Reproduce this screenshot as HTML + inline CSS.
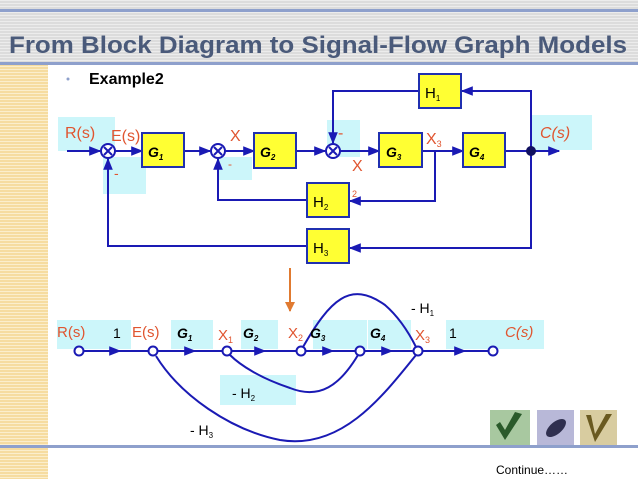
<!DOCTYPE html>
<html><head><style>
body{margin:0;width:638px;height:479px;overflow:hidden;background:#fff;position:relative;font-family:"Liberation Sans",sans-serif}
</style></head><body>
<svg width="638" height="479" viewBox="0 0 638 479" style="position:absolute;left:0;top:0">
<defs>
<marker id="a" viewBox="0 0 10 10" refX="9" refY="5" markerWidth="6" markerHeight="6" orient="auto"><path d="M0,1 L10,5 L0,9z" fill="#1a1ab4"/></marker>
<marker id="o" viewBox="0 0 10 10" refX="9" refY="5" markerWidth="5" markerHeight="5" orient="auto"><path d="M0,0 L10,5 L0,10z" fill="#e07a30"/></marker>
<pattern id="g" width="4" height="3" patternUnits="userSpaceOnUse"><rect width="4" height="3" fill="#dcdcdc"/><rect width="4" height="1" fill="#ececec"/></pattern>
<pattern id="y" width="4" height="3" patternUnits="userSpaceOnUse"><rect width="4" height="3" fill="#f6dca0"/><rect width="4" height="1" fill="#fbeecc"/></pattern>
</defs>
<rect x="0" y="0" width="638" height="64" fill="url(#g)"/>
<rect x="0" y="9" width="638" height="3" fill="#8ea0cc"/>
<rect x="0" y="62" width="638" height="3" fill="#8ea0cc"/>
<rect x="0" y="65" width="48" height="414" fill="url(#y)"/>
<rect x="0" y="445" width="638" height="3" fill="#8ea0cc"/>
<text x="9" y="53" font-size="24" font-weight="bold" fill="#4a5a7a" textLength="618" lengthAdjust="spacingAndGlyphs" font-family="Liberation Sans">From Block Diagram to Signal-Flow Graph Models</text>
<circle cx="68" cy="79" r="1.5" fill="#8ea0cc"/>
<text x="89" y="84" font-size="16" font-weight="bold" fill="#000">Example2</text>
<g fill="#ccf6fa">
<rect x="58" y="117" width="57" height="34"/><rect x="103" y="157" width="43" height="37"/><rect x="218" y="157" width="34" height="23"/><rect x="327" y="120" width="33" height="37"/><rect x="532" y="115" width="60" height="35"/>
<rect x="57" y="320" width="74" height="29"/><rect x="171" y="320" width="42" height="29"/><rect x="241" y="320" width="37" height="29"/><rect x="313" y="320" width="54" height="29"/><rect x="368" y="320" width="43" height="29"/><rect x="446" y="320" width="98" height="29"/><rect x="220" y="375" width="76" height="30"/>
</g>
<g stroke="#1a1ab4" stroke-width="2" fill="none">
<line x1="67" y1="151" x2="100" y2="151" marker-end="url(#a)"/>
<line x1="115" y1="151" x2="142" y2="151" marker-end="url(#a)"/>
<line x1="184" y1="151" x2="210" y2="151" marker-end="url(#a)"/>
<line x1="225" y1="151" x2="254" y2="151" marker-end="url(#a)"/>
<line x1="296" y1="151" x2="325" y2="151" marker-end="url(#a)"/>
<line x1="340" y1="151" x2="379" y2="151" marker-end="url(#a)"/>
<line x1="422" y1="151" x2="463" y2="151" marker-end="url(#a)"/>
<line x1="505" y1="151" x2="559" y2="151" marker-end="url(#a)"/>
<polyline points="531,151 531,91 462,91" marker-end="url(#a)"/>
<polyline points="419,91 333,91 333,143" marker-end="url(#a)"/>
<polyline points="435,151 435,201 350,201" marker-end="url(#a)"/>
<polyline points="307,200 218,200 218,159" marker-end="url(#a)"/>
<polyline points="531,151 531,248 350,248" marker-end="url(#a)"/>
<polyline points="307,246 108,246 108,159" marker-end="url(#a)"/>
<circle cx="108" cy="151" r="7" fill="#fff"/><circle cx="218" cy="151" r="7" fill="#fff"/><circle cx="333" cy="151" r="7" fill="#fff"/>
<path d="M104,147 L112,155 M112,147 L104,155 M214,147 L222,155 M222,147 L214,155 M329,147 L337,155 M337,147 L329,155"/>
</g>
<circle cx="531" cy="151" r="5" fill="#101060"/>
<g fill="#ffff33" stroke="#2030b0" stroke-width="2">
<rect x="142" y="133" width="42" height="34"/><rect x="254" y="133" width="42" height="35"/><rect x="379" y="133" width="43" height="34"/><rect x="463" y="133" width="42" height="34"/>
<rect x="419" y="74" width="42" height="34"/><rect x="307" y="183" width="42" height="34"/><rect x="307" y="229" width="42" height="34"/>
</g>
<g font-size="14" font-weight="bold" font-style="italic" fill="#000">
<text x="148" y="157">G<tspan font-size="8" dy="3">1</tspan></text>
<text x="260" y="157">G<tspan font-size="8" dy="3">2</tspan></text>
<text x="386" y="157">G<tspan font-size="8" dy="3">3</tspan></text>
<text x="469" y="157">G<tspan font-size="8" dy="3">4</tspan></text>
</g>
<g font-size="15" fill="#000">
<text x="425" y="98">H<tspan font-size="8" dy="3">1</tspan></text>
<text x="313" y="207">H<tspan font-size="8" dy="3">2</tspan></text>
<text x="313" y="253">H<tspan font-size="8" dy="3">3</tspan></text>
</g>
<g fill="#e05530" font-size="16">
<text x="65" y="138">R(s)</text><text x="111" y="141">E(s)</text><text x="230" y="141">X</text><text x="352" y="171">X</text><text x="426" y="144">X<tspan font-size="9" dy="3">3</tspan></text>
<text x="540" y="138" font-style="italic">C(s)</text>
<text x="114" y="178" font-size="14">-</text><text x="228" y="168" font-size="12">-</text><text x="338" y="138" font-size="16">-</text><text x="352" y="197" font-size="9">2</text>
</g>
<line x1="290" y1="268" x2="290" y2="311" stroke="#e07a30" stroke-width="2" marker-end="url(#o)"/>
<g stroke="#1a1ab4" stroke-width="2" fill="none">
<line x1="83" y1="351" x2="120" y2="351" marker-end="url(#a)"/><line x1="120" y1="351" x2="149" y2="351"/>
<line x1="157" y1="351" x2="195" y2="351" marker-end="url(#a)"/><line x1="195" y1="351" x2="223" y2="351"/>
<line x1="231" y1="351" x2="265" y2="351" marker-end="url(#a)"/><line x1="265" y1="351" x2="297" y2="351"/>
<line x1="305" y1="351" x2="333" y2="351" marker-end="url(#a)"/><line x1="333" y1="351" x2="356" y2="351"/>
<line x1="364" y1="351" x2="392" y2="351" marker-end="url(#a)"/><line x1="392" y1="351" x2="414" y2="351"/>
<line x1="422" y1="351" x2="465" y2="351" marker-end="url(#a)"/><line x1="465" y1="351" x2="489" y2="351"/>
<path d="M303,347 C330,300 350,280 385,305 C400,318 410,335 416,347"/>
<path d="M358,355 C340,385 320,400 290,388 C260,378 240,365 230,355"/>
<path d="M416,355 C380,400 340,450 280,440 C230,430 180,395 156,356"/>
<circle cx="79" cy="351" r="4.5" fill="#fff"/><circle cx="153" cy="351" r="4.5" fill="#fff"/><circle cx="227" cy="351" r="4.5" fill="#fff"/><circle cx="301" cy="351" r="4.5" fill="#fff"/><circle cx="360" cy="351" r="4.5" fill="#fff"/><circle cx="418" cy="351" r="4.5" fill="#fff"/><circle cx="493" cy="351" r="4.5" fill="#fff"/>
</g>
<g font-size="15" fill="#e05530">
<text x="57" y="337">R(s)</text><text x="132" y="337">E(s)</text><text x="218" y="340">X<tspan font-size="9" dy="3">1</tspan></text><text x="288" y="338">X<tspan font-size="9" dy="3">2</tspan></text><text x="415" y="340">X<tspan font-size="9" dy="3">3</tspan></text><text x="505" y="337" font-style="italic">C(s)</text>
</g>
<g font-size="14" fill="#000">
<text x="113" y="338">1</text><text x="449" y="338">1</text>
<text x="177" y="338" font-style="italic" font-weight="bold">G<tspan font-size="8" dy="3">1</tspan></text>
<text x="243" y="338" font-style="italic" font-weight="bold">G<tspan font-size="8" dy="3">2</tspan></text>
<text x="310" y="338" font-style="italic" font-weight="bold">G<tspan font-size="8" dy="3">3</tspan></text>
<text x="370" y="338" font-style="italic" font-weight="bold">G<tspan font-size="8" dy="3">4</tspan></text>
<text x="411" y="313">-  H<tspan font-size="8" dy="3">1</tspan></text>
<text x="232" y="398">-  H<tspan font-size="8" dy="3">2</tspan></text>
<text x="190" y="435">-  H<tspan font-size="8" dy="3">3</tspan></text>
</g>
<rect x="490" y="410" width="40" height="35" fill="#a8c8a0"/><path d="M496,425 L505,440 L522,414 L515,412 L505,430 L500,422z" fill="#2a5a2a"/>
<rect x="537" y="410" width="37" height="35" fill="#b8b8d8"/><ellipse cx="556" cy="428" rx="12" ry="6" fill="#303050" transform="rotate(-40 556 428)"/>
<rect x="580" y="410" width="37" height="35" fill="#d8cca0"/><path d="M586,415 L595,442 L612,414 L606,414 L595,434 L591,415z" fill="#6a5a20"/>
<text x="496" y="474" font-size="12" fill="#000">Continue……</text>
</svg>
</body></html>
